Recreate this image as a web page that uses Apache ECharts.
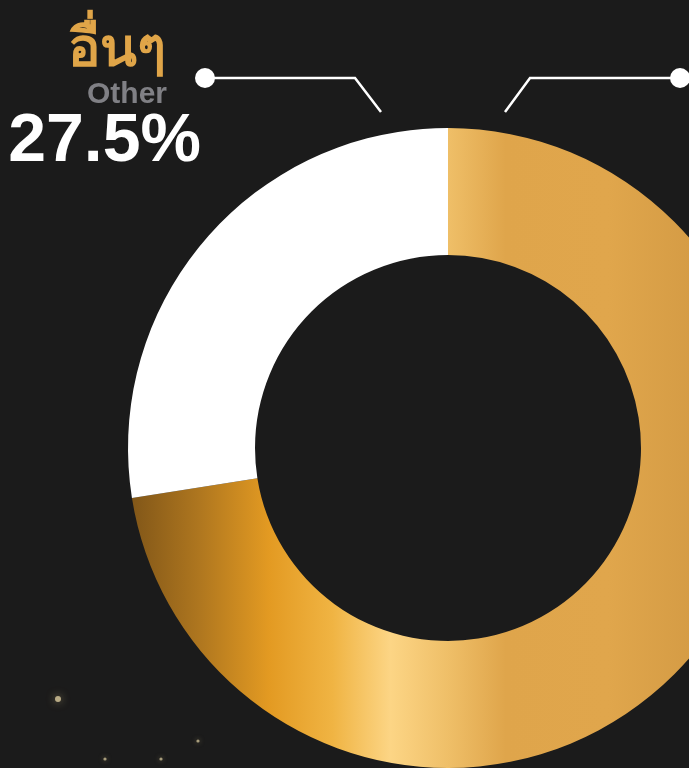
<!DOCTYPE html>
<html>
<head>
<meta charset="utf-8">
<script src="https://cdn.jsdelivr.net/npm/echarts@6/dist/echarts.min.js"></script>
<style>
html, body { margin: 0; padding: 0; background: #1b1b1b; }
#chart { width: 689px; height: 768px; }
</style>
</head>
<body>
<div id="chart"></div>
<script>
// data
const namesTh = ['ทองคำ', 'อื่นๆ'];
const namesEn = ['Gold', 'Other'];
const shares = [72.5, 27.5];

// layout
const cx = 448, cy = 448;
const rOut = 320, rIn = 193;

const goldFill = {
	type: 'linear', x: cx - rOut, y: 0, x2: cx + rOut, y2: 0, global: true,
	colorStops: [
		{ offset: 0, color: '#7f5518' },
		{ offset: 0.11, color: '#ae761f' },
		{ offset: 0.22, color: '#e39a22' },
		{ offset: 0.32, color: '#f0b443' },
		{ offset: 0.41, color: '#fcd585' },
		{ offset: 0.5, color: '#efbf68' },
		{ offset: 0.59, color: '#dfa54b' },
		{ offset: 0.75, color: '#e0a64c' },
		{ offset: 0.88, color: '#d59c45' },
		{ offset: 1, color: '#cc9340' }
	]
};
const fills = [goldFill, '#ffffff'];

let chart = echarts.init(document.getElementById('chart'));

let option = {
	backgroundColor: '#1b1b1b',
	animation: false,
	graphic: [
		// leader dots
		{ type: 'circle', shape: { cx: cx - 243, cy: cy - 370, r: 10 }, style: { fill: '#fff' }, z: 10 },
		{ type: 'circle', shape: { cx: cx + 232, cy: cy - 370, r: 10 }, style: { fill: '#fff' }, z: 10 },
		// sparkles
		{ type: 'circle', shape: { cx: 58, cy: 699, r: 3 }, style: { fill: '#b8ab85', shadowBlur: 8, shadowColor: 'rgba(220,200,140,0.6)' } },
		{ type: 'circle', shape: { cx: 105, cy: 759, r: 1.6 }, style: { fill: '#a89d7c', shadowBlur: 5, shadowColor: 'rgba(220,200,140,0.5)' } },
		{ type: 'circle', shape: { cx: 161, cy: 759, r: 1.6 }, style: { fill: '#a89d7c', shadowBlur: 5, shadowColor: 'rgba(220,200,140,0.5)' } },
		{ type: 'circle', shape: { cx: 198, cy: 741, r: 1.6 }, style: { fill: '#a89d7c', shadowBlur: 5, shadowColor: 'rgba(220,200,140,0.5)' } }
	],
	series: [
		{
			type: 'pie',
			center: [cx, cy],
			radius: [rIn, rOut],
			startAngle: 90,
			clockwise: true,
			avoidLabelOverlap: false,
			data: shares.map(function (v, i) {
				return { value: v, name: namesEn[i], itemStyle: { color: fills[i] } };
			}),
			label: {
				show: true,
				formatter: function (p) {
					return '{th|' + namesTh[p.dataIndex] + '}\n{en|' + namesEn[p.dataIndex] + '}\n{pct|' + p.value + '%}';
				},
				fontFamily: '"Liberation Sans", sans-serif',
				rich: {
					th: { fontSize: 54, fontWeight: 'bold', color: '#e0a548', lineHeight: 57, padding: [0, 35, 0, 0] },
					en: { fontSize: 30, fontWeight: 'bold', color: '#808085', lineHeight: 30, padding: [0, 34, 0, 0] },
					pct: { fontSize: 68, fontWeight: 'bold', color: '#ffffff', lineHeight: 64 }
				}
			},
			labelLine: {
				show: true,
				smooth: false,
				lineStyle: { color: '#ffffff', width: 2.5 }
			},
			labelLayout: function (params) {
				if (params.dataIndex === 1) {
					return {
						x: 201, y: 23, align: 'right', verticalAlign: 'top',
						labelLinePoints: [[cx - 67, cy - 336], [cx - 93, cy - 370], [cx - 243, cy - 370]]
					};
				}
				return {
					x: cx + 262, y: 23, align: 'left', verticalAlign: 'top',
					labelLinePoints: [[cx + 57, cy - 336], [cx + 82, cy - 370], [cx + 232, cy - 370]]
				};
			},
			emphasis: { disabled: true }
		}
	]
};
chart.setOption(option);
</script>
</body>
</html>
